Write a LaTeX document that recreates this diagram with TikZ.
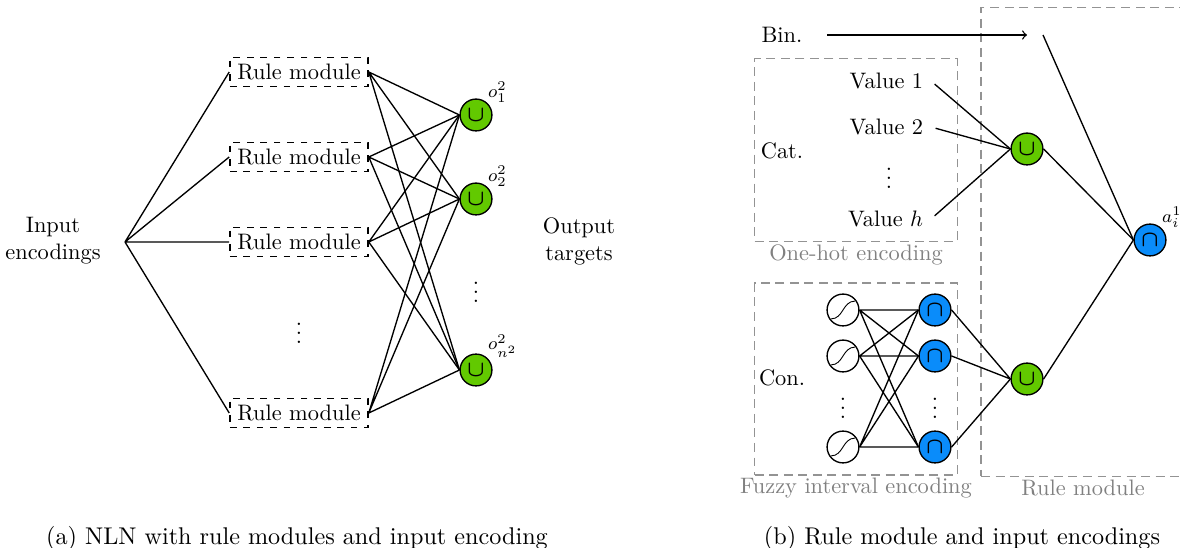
\documentclass[tikz,border=0pt]{standalone}
\usepackage{amsmath, amssymb}
\usepackage{tikz}
\usetikzlibrary{shapes,arrows}
\definecolor{orgreen}{RGB}{98,201,0}
\definecolor{andblue}{RGB}{10,140,250}
\tikzstyle{module} = [rectangle, draw, dashed, semithick,
    minimum width=2.17cm, minimum height=0.46cm, inner sep=1pt]
\tikzstyle{ornode} = [circle, draw, semithick, fill=orgreen,
    minimum size=0.5cm, inner sep=0pt]
\tikzstyle{andnode} = [circle, draw, semithick, fill=andblue,
    minimum size=0.5cm, inner sep=0pt]
\tikzstyle{sigm} = [circle, draw, semithick, fill=white,
    minimum size=0.5cm, inner sep=0pt,
    path picture={\draw[thin] ([shift={(-0.19cm,-0.14cm)}]path picture bounding box.center)
        .. controls ([shift={(0.01cm,-0.14cm)}]path picture bounding box.center)
        and ([shift={(-0.01cm,0.14cm)}]path picture bounding box.center)
        .. ([shift={(0.19cm,0.14cm)}]path picture bounding box.center);}]
\tikzstyle{encbox} = [rectangle, draw=gray!85, dash pattern=on 4pt off 2.5pt, semithick]
\tikzstyle{boxtitle} = [text=gray]
\tikzstyle{caption} = [font=\fontsize{10.8}{13}\selectfont]
\tikzstyle{line} = [draw, semithick]

\begin{document}
\begin{tikzpicture}[x=0.0157cm, y=-0.0157cm]
    \useasboundingbox (0,0) rectangle (1180,548);

    % (a) Place nodes
    \node [align=center] (in) at (53,241) {Input\\encodings};
    \coordinate (fan) at (125,242);
    \node [module] (r1) at (299,72) {Rule module};
    \node [module] (r2) at (299,157) {Rule module};
    \node [module] (r3) at (299,242) {Rule module};
    \node (rdots) at (299,327) {$\vdots$};
    \node [module] (rn) at (299,413) {Rule module};

    \node [ornode, label={[inner sep=0pt]north east:\footnotesize$o^2_1$}] (o1) at (476,115) {$\boldsymbol{\cup}$};
    \node [ornode, label={[inner sep=0pt]north east:\footnotesize$o^2_2$}] (o2) at (476,199) {$\boldsymbol{\cup}$};
    \node (odots) at (476,286) {$\vdots$};
    \node [ornode, label={[inner sep=0pt]north east:\footnotesize$o^2_{n^2}$}] (on) at (476,370) {$\boldsymbol{\cup}$};
    \node [align=center] (out) at (579,241) {Output\\targets};

    % (a) Draw edges
    \path [line] (fan) -- (r1.west) (fan) -- (r2.west) (fan) -- (r3.west) (fan) -- (rn.west);
    \path [line] (r1.east) -- (o1.west) (r1.east) -- (o2.west) (r1.east) -- (on.west);
    \path [line] (r2.east) -- (o1.west) (r2.east) -- (o2.west) (r2.east) -- (on.west);
    \path [line] (r3.east) -- (o1.west) (r3.east) -- (o2.west) (r3.east) -- (on.west);
    \path [line] (rn.east) -- (o1.west) (rn.east) -- (o2.west) (rn.east) -- (on.west);

    % (b) Boxes
    \node [encbox, minimum width=3.18cm, minimum height=2.87cm,
        label={[boxtitle, inner sep=1pt]below:One-hot encoding}] (onehot) at (856,150) {};
    \node [encbox, minimum width=3.18cm, minimum height=3.01cm,
        label={[boxtitle, inner sep=1pt]below:Fuzzy interval encoding}] (fuzzy) at (856,379) {};
    \node [encbox, minimum width=3.2cm, minimum height=7.36cm,
        label={[boxtitle, inner sep=1pt]below:Rule module}] (rule) at (1083,242) {};

    % (b) Place nodes
    \node (bin) at (782,35) {Bin.};
    \coordinate (binarr) at (1027,35);
    \coordinate (binout) at (1043,35);
    \node (cat) at (782,151) {Cat.};
    \node [anchor=east] (v1) at (931,81) {Value 1};
    \node [anchor=east] (v2) at (931,127) {Value 2};
    \node (vdots) at (889,172) {$\vdots$};
    \node [anchor=east] (vh) at (931,219) {Value $h$};
    \node [ornode] (or1) at (1027,149) {$\boldsymbol{\cup}$};

    \node (con) at (782,378) {Con.};
    \node [sigm] (s1) at (843,310) {};
    \node [sigm] (s2) at (843,356) {};
    \node (sdots) at (843,402) {$\vdots$};
    \node [sigm] (sm) at (843,447) {};
    \node [andnode] (f1) at (935,310) {$\boldsymbol{\cap}$};
    \node [andnode] (f2) at (935,356) {$\boldsymbol{\cap}$};
    \node (fdots) at (935,402) {$\vdots$};
    \node [andnode] (fm) at (935,447) {$\boldsymbol{\cap}$};
    \node [ornode] (or2) at (1027,379) {$\boldsymbol{\cup}$};

    \node [andnode, label={[inner sep=0pt]north east:\footnotesize$a^1_i$}] (and) at (1150,240) {$\boldsymbol{\cap}$};

    % (b) Draw edges
    \draw [semithick, ->, shorten <=0.27cm] (bin.east) -- (binarr);
    \path [line] (binout) -- (and.west);
    \path [line, shorten <=0.075cm] (v1.east) -- (or1.west);
    \path [line, shorten <=0.075cm] (v2.east) -- (or1.west);
    \path [line, shorten <=0.075cm] (vh.east) -- (or1.west);
    \path [line] (or1.east) -- (and.west);

    \path [line] (s1.east) -- (f1.west) (s1.east) -- (f2.west) (s1.east) -- (fm.west);
    \path [line] (s2.east) -- (f1.west) (s2.east) -- (f2.west) (s2.east) -- (fm.west);
    \path [line] (sm.east) -- (f1.west) (sm.east) -- (f2.west) (sm.east) -- (fm.west);
    \path [line] (f1.east) -- (or2.west) (f2.east) -- (or2.west) (fm.east) -- (or2.west);
    \path [line] (or2.east) -- (and.west);

    % Captions
    \node [caption] (capa) at (297,538) {(a) NLN with rule modules and input encoding};
    \node [caption] (capb) at (962,538) {(b) Rule module and input encodings};
\end{tikzpicture}
\end{document}
